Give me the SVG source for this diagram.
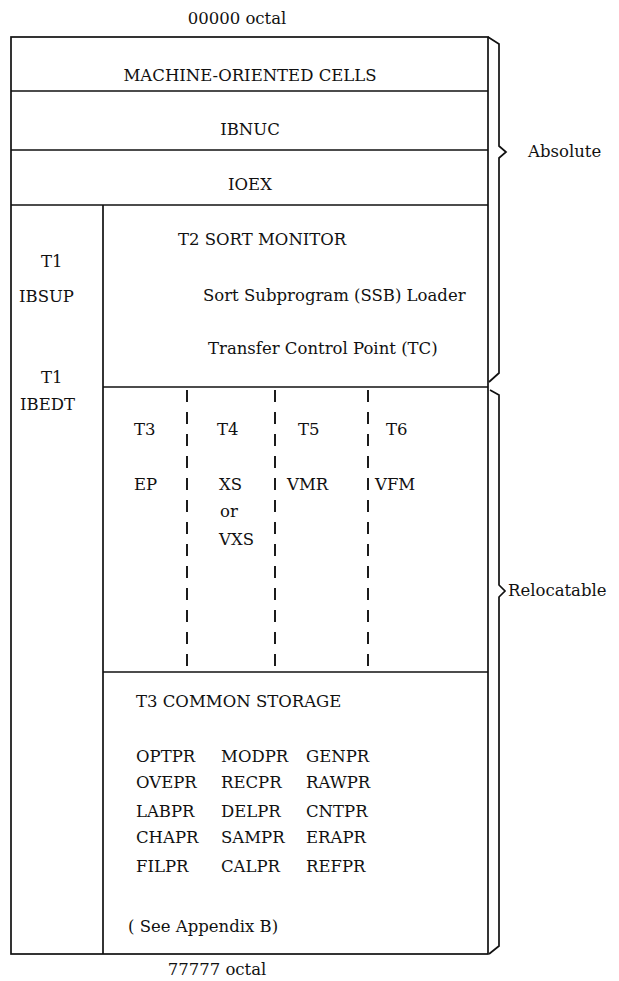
<svg xmlns="http://www.w3.org/2000/svg" width="619" height="981" viewBox="0 0 619 981">
<style>
text{font-family:"DejaVu Serif","Liberation Serif",serif;font-size:16.5px;fill:#111}
.c{text-anchor:middle}
.ln{stroke:#111;stroke-width:1.7;fill:none}
.dash{stroke:#111;stroke-width:1.9;stroke-dasharray:12 10;fill:none}
</style>
<rect width="619" height="981" fill="#fff"/>
<text class="c" x="237" y="24">00000 octal</text>
<text class="c" x="217" y="975">77777 octal</text>
<g id="frame">
<rect class="ln" x="11" y="37" width="477" height="917"/>
<line class="ln" x1="11" y1="91" x2="488" y2="91"/>
<line class="ln" x1="11" y1="150" x2="488" y2="150"/>
<line class="ln" x1="11" y1="205" x2="488" y2="205"/>
<line class="ln" x1="103" y1="205" x2="103" y2="954"/>
<line class="ln" x1="103" y1="387" x2="488" y2="387"/>
<line class="ln" x1="103" y1="672" x2="488" y2="672"/>
</g>
<g id="machine"><text class="c" x="250" y="81">MACHINE-ORIENTED CELLS</text></g>
<g id="ibnuc"><text class="c" x="250" y="135">IBNUC</text></g>
<g id="ioex"><text class="c" x="250" y="190">IOEX</text></g>
<g id="t1">
<text x="41" y="267">T1</text><text x="19" y="302">IBSUP</text>
<text x="41" y="383">T1</text><text x="20" y="410">IBEDT</text>
</g>
<g id="t2">
<text x="178" y="245">T2 SORT MONITOR</text>
<text x="203" y="301">Sort Subprogram (SSB) Loader</text>
<text x="208" y="354">Transfer Control Point (TC)</text>
</g>
<g id="overlays">
<line class="dash" x1="187" y1="390" x2="187" y2="672"/>
<line class="dash" x1="275" y1="390" x2="275" y2="672"/>
<line class="dash" x1="368" y1="390" x2="368" y2="672"/>
<text x="134" y="435">T3</text><text x="217" y="435">T4</text><text x="298" y="435">T5</text><text x="386" y="435">T6</text>
<text x="134" y="490">EP</text><text x="219" y="490">XS</text><text x="220" y="517">or</text><text x="219" y="545">VXS</text>
<text x="287" y="490">VMR</text><text x="375" y="490">VFM</text>
</g>
<g id="common">
<text x="136" y="707">T3 COMMON STORAGE</text>
<text x="136" y="762">OPTPR</text><text x="221" y="762">MODPR</text><text x="306" y="762">GENPR</text>
<text x="136" y="788">OVEPR</text><text x="221" y="788">RECPR</text><text x="306" y="788">RAWPR</text>
<text x="136" y="817">LABPR</text><text x="221" y="817">DELPR</text><text x="306" y="817">CNTPR</text>
<text x="136" y="843">CHAPR</text><text x="221" y="843">SAMPR</text><text x="306" y="843">ERAPR</text>
<text x="136" y="872">FILPR</text><text x="221" y="872">CALPR</text><text x="306" y="872">REFPR</text>
<text x="128" y="932">( See Appendix B)</text>
</g>
<g id="braces">
<path class="ln" d="M488 37 L499 44 L499 146 L506 152 L499 158 L499 373 L489 382"/>
<path class="ln" d="M490 390 L499 395 L499 585 L505 591 L499 597 L499 946 L489 954"/>
</g>
<text x="528" y="157">Absolute</text>
<text x="508" y="596">Relocatable</text>
</svg>
